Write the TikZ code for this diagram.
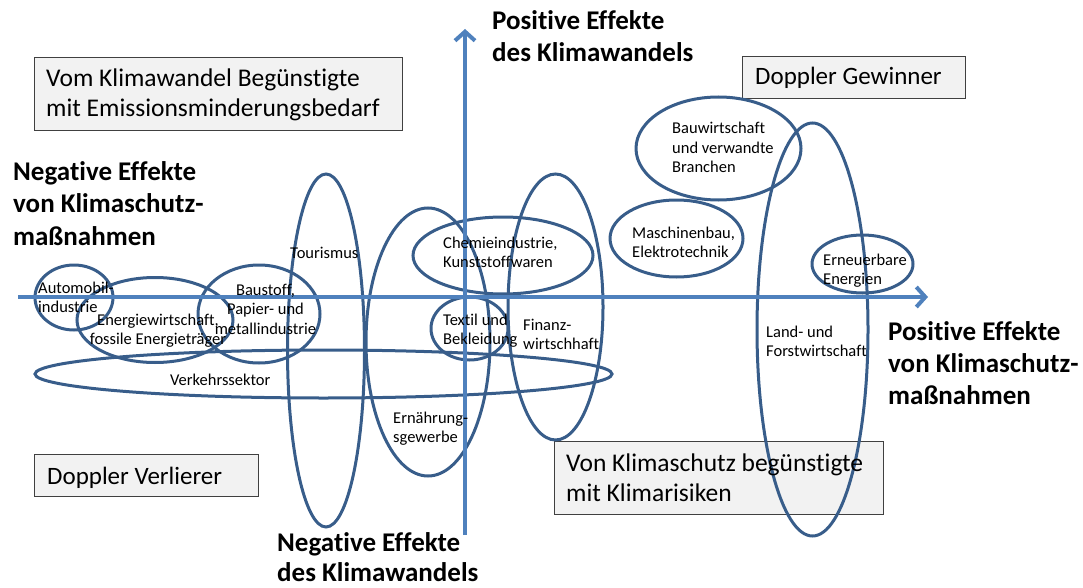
\documentclass[tikz,border=0pt]{standalone}
\usepackage{fontspec}
\setmainfont{Carlito}[Ligatures=NoCommon]
\usetikzlibrary{arrows.meta,shapes.geometric}
\definecolor{axisblue}{RGB}{79,129,189}
\definecolor{ringblue}{RGB}{56,93,138}
\definecolor{boxfill}{RGB}{242,242,242}
\definecolor{boxline}{RGB}{64,64,64}
% stacked lines whose first baseline is the node's baseline
\newcommand{\txtlines}[2][l]{\begin{tabular}[t]{@{}#1@{}}#2\end{tabular}}
\begin{document}
\begin{tikzpicture}[x=1pt,y=-1pt,
  sector/.style={ellipse, draw=ringblue, line width=3pt, inner sep=0pt},
  axisline/.style={draw=axisblue, line width=4pt, -{Straight Barb[length=9pt,width=20pt]}},
  quadbox/.style={rectangle, draw=boxline, fill=boxfill, line width=1.2pt, inner sep=0pt, anchor=north west},
  boxtext/.style={font=\fontsize{25.5}{30.5}\selectfont, anchor=base west, inner sep=0pt},
  axistext/.style={font=\bfseries\fontsize{27}{32}\selectfont, anchor=base west, inner sep=0pt},
  sectortext/.style={font=\fontsize{16.5}{19.5}\selectfont, anchor=base west, inner sep=0pt},
]
\useasboundingbox (0,0) rectangle (1083,588);

% quadrant boxes
\node[quadbox, minimum width=368pt, minimum height=73pt] (emission) at (34,57) {};
\node[quadbox, minimum width=223pt, minimum height=42pt] (gewinner) at (742,56) {};
\node[quadbox, minimum width=224pt, minimum height=42pt] (verlierer) at (34,454) {};
\node[quadbox, minimum width=329pt, minimum height=73pt] (klimarisiken) at (554,441) {};

% sectors
\node[sector, minimum width=78pt,  minimum height=65pt]  (auto)      at (74,297.5) {};
\node[sector, minimum width=156pt, minimum height=85pt]  (energie)   at (155,320) {};
\node[sector, minimum width=122pt, minimum height=98pt]  (baustoff)  at (259,314) {};
\node[sector, minimum width=577pt, minimum height=48pt]  (verkehr)   at (323.5,374) {};
\node[sector, minimum width=77pt,  minimum height=353pt] (tourismus) at (326,350.5) {};
\node[sector, minimum width=124pt, minimum height=268pt] (ernaehrung) at (428,342) {};
\node[sector, minimum width=180pt, minimum height=77pt]  (chemie)    at (503,255.5) {};
\node[sector, minimum width=77pt,  minimum height=63pt]  (textil)    at (469.5,328.5) {};
\node[sector, minimum width=95pt,  minimum height=266pt] (finanz)    at (555.5,307) {};
\node[sector, minimum width=165pt, minimum height=103pt] (bau)       at (718.5,148.5) {};
\node[sector, minimum width=133pt, minimum height=77pt]  (maschinen) at (676.5,238.5) {};
\node[sector, minimum width=101pt, minimum height=58pt]  (erneuerbar) at (862.5,264) {};
\node[sector, minimum width=111pt, minimum height=413pt] (landforst) at (812.5,329.5) {};

% axes
\coordinate (xstart) at (18,297);
\coordinate (xend) at (928,297);
\coordinate (ystart) at (465,535);
\coordinate (yend) at (465,29);
\draw[axisline] (xstart) -- (xend);
\draw[axisline] (ystart) -- (yend);

% axis captions
\node[axistext] (posklima) at (492,30) {\txtlines{Positive Effekte\\des Klimawandels}};
\node[axistext, font=\bfseries\fontsize{27}{30}\selectfont] (negklima) at (277,551) {\txtlines{Negative Effekte\\des Klimawandels}};
\node[axistext] (negschutz) at (13,181) {\txtlines{Negative Effekte\\von Klimaschutz-\\maßnahmen}};
\node[axistext] (posschutz) at (888,340) {\txtlines{Positive Effekte\\von Klimaschutz-\\maßnahmen}};

% box captions
\node[boxtext] (emissiontext) at (46,86.5) {\txtlines{Vom Klimawandel Begünstigte\\mit Emissionsminderungsbedarf}};
\node[boxtext, font=\fontsize{25}{30}\selectfont] (gewinnertext) at (755,85) {Doppler Gewinner};
\node[boxtext, font=\fontsize{25}{30}\selectfont] (verlierertext) at (47,484) {Doppler Verlierer};
\node[boxtext] (klimarisikentext) at (566,471) {\txtlines{Von Klimaschutz begünstigte\\mit Klimarisiken}};

% sector captions
\node[sectortext] (autotext) at (38,293) {\txtlines{Automobil-\\industrie}};
\node[sectortext, anchor=base] (energietext) at (158,325) {\txtlines[c]{Energiewirtschaft,\\fossile Energieträger}};
\node[sectortext, anchor=base] (baustofftext) at (265.5,295) {\txtlines[c]{Baustoff,\\Papier- und\\metallindustrie}};
\node[sectortext] (verkehrtext) at (170,385) {Verkehrssektor};
\node[sectortext] (tourismustext) at (290,258) {Tourismus};
\node[sectortext] (ernaehrungtext) at (393,423) {\txtlines{Ernährung-\\sgewerbe}};
\node[sectortext] (chemietext) at (443,248) {\txtlines{Chemieindustrie,\\Kunststoffwaren}};
\node[sectortext] (textiltext) at (443,325) {\txtlines{Textil und\\Bekleidung}};
\node[sectortext] (finanztext) at (523,330) {\txtlines{Finanz-\\wirtschhaft}};
\node[sectortext] (bautext) at (672,134) {\txtlines{Bauwirtschaft\\und verwandte\\Branchen}};
\node[sectortext] (maschinentext) at (632,238) {\txtlines{Maschinenbau,\\Elektrotechnik}};
\node[sectortext] (erneuerbartext) at (823,265) {\txtlines{Erneuerbare\\Energien}};
\node[sectortext] (landforsttext) at (766,337) {\txtlines{Land- und\\Forstwirtschaft}};
\end{tikzpicture}
\end{document}
